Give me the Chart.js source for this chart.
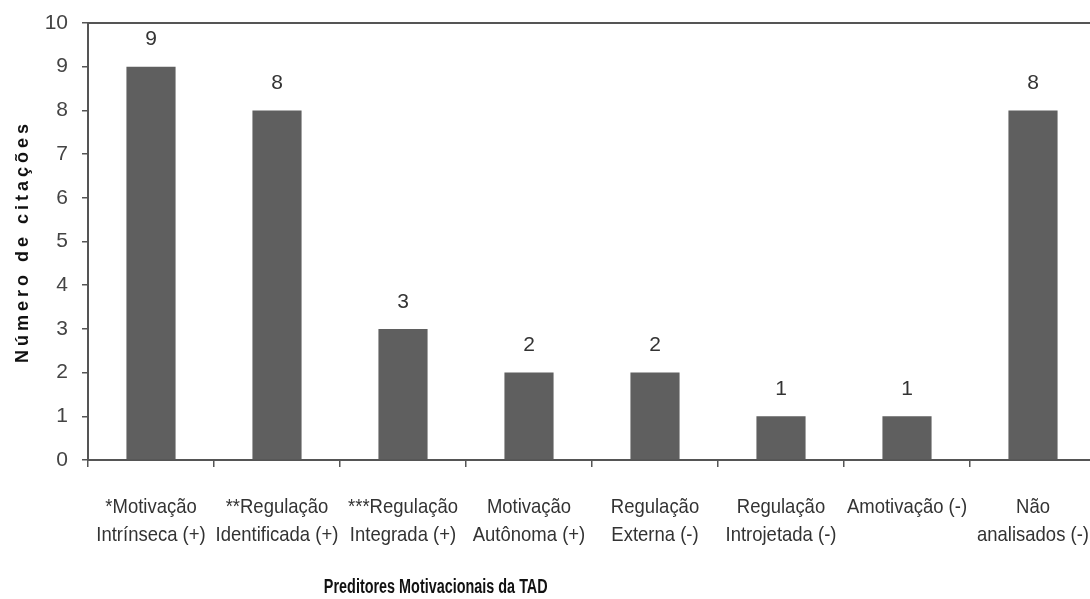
<!DOCTYPE html>
<html lang="pt">
<head>
<meta charset="utf-8">
<title>Preditores Motivacionais da TAD</title>
<script src="https://cdn.jsdelivr.net/npm/chart.js@4/dist/chart.umd.min.js"></script>
<style>
  html, body { margin: 0; padding: 0; background: #ffffff; overflow: hidden; }
  #wrap { width: 1090px; height: 599px; overflow: hidden; }
  canvas { display: block; }
</style>
</head>
<body>
<div id="wrap"><canvas id="chart" width="1096" height="599"></canvas></div>
<script>
// Categorias (preditores motivacionais) e número de citações
const categories = [
  ['*Motivação', 'Intrínseca (+)'],
  ['**Regulação', 'Identificada (+)'],
  ['***Regulação', 'Integrada (+)'],
  ['Motivação', 'Autônoma (+)'],
  ['Regulação', 'Externa (-)'],
  ['Regulação', 'Introjetada (-)'],
  ['Amotivação (-)'],
  ['Não', 'analisados (-)']
];
const citations = [9, 8, 3, 2, 2, 1, 1, 8];
const yTicks = [0, 1, 2, 3, 4, 5, 6, 7, 8, 9, 10];
const xTitle = 'Preditores Motivacionais da TAD';
const yTitle = 'Número de citações';

const SANS = "'Liberation Sans', Arial, sans-serif";
const AXIS = '#555555';
const LABEL_CONDENSE = 0.88;   // largura relativa dos rótulos das categorias
const TITLE_CONDENSE = 0.72;   // largura relativa do título do eixo x

// Rótulos de valor acima de cada barra
const valueLabels = {
  id: 'valueLabels',
  afterDatasetsDraw(chart) {
    const ctx = chart.ctx;
    const meta = chart.getDatasetMeta(0);
    ctx.save();
    ctx.font = '21px ' + SANS;
    ctx.fillStyle = '#333333';
    ctx.textAlign = 'center';
    ctx.textBaseline = 'middle';
    meta.data.forEach((bar, i) => {
      ctx.fillText(String(chart.data.datasets[0].data[i]), bar.x, bar.y - 27);
    });
    ctx.restore();
  }
};

// Estilo do texto dos eixos: título vertical espaçado, rótulos e título horizontal condensados
const axisText = {
  id: 'axisText',
  afterLayout(chart) {
    const y = chart.scales.y;
    if (y && !y._styled) {
      const orig = y.drawTitle.bind(y);
      y.drawTitle = function () {
        this.ctx.save();
        this.ctx.letterSpacing = '4px';
        orig();
        this.ctx.restore();
      };
      y._styled = true;
    }
    const x = chart.scales.x;
    if (x && !x._styled) {
      const origTitle = x.drawTitle.bind(x);
      x.drawTitle = function () {
        const ca = this.chart.chartArea;
        const target = ca.left + (ca.right - ca.left) * 0.345;
        const center = (this.left + this.right) / 2;
        this.ctx.save();
        this.ctx.translate(target, 0);
        this.ctx.scale(TITLE_CONDENSE, 1);
        this.ctx.translate(-center, 0);
        origTitle();
        this.ctx.restore();
      };
      x.drawLabels = function (chartArea) {
        const ctx = this.ctx;
        const items = this.getLabelItems(chartArea);
        for (const item of items) {
          const o = item.options;
          const lines = Array.isArray(item.label) ? item.label : [item.label];
          ctx.save();
          ctx.translate(o.translation[0], o.translation[1]);
          ctx.scale(LABEL_CONDENSE, 1);
          ctx.font = item.font.string;
          ctx.fillStyle = o.color;
          ctx.textAlign = o.textAlign;
          ctx.textBaseline = o.textBaseline;
          let ty = item.textOffset;
          for (const line of lines) {
            ctx.fillText(line, 0, ty);
            ty += item.font.lineHeight;
          }
          ctx.restore();
        }
      };
      x._styled = true;
    }
  }
};

new Chart(document.getElementById('chart'), {
  type: 'bar',
  data: {
    labels: categories,
    datasets: [{
      data: citations,
      backgroundColor: '#5f5f5f',
      borderWidth: 0,
      barPercentage: 0.39,
      categoryPercentage: 1.0
    }]
  },
  options: {
    responsive: false,
    animation: false,
    events: [],
    layout: { padding: { top: 23, right: 0, bottom: 0, left: 0 } },
    plugins: {
      legend: { display: false },
      tooltip: { enabled: false }
    },
    scales: {
      x: {
        position: 'bottom',
        offset: true,
        grid: {
          display: true,
          offset: true,
          drawOnChartArea: false,
          drawTicks: true,
          tickLength: 7,
          color: AXIS,
          lineWidth: 1.5
        },
        border: { display: true, color: AXIS, width: 2 },
        ticks: {
          color: '#333333',
          font: { family: SANS, size: 21, lineHeight: 1.333 },
          padding: 26,
          maxRotation: 0,
          autoSkip: false
        },
        title: {
          display: true,
          text: xTitle,
          color: '#111111',
          font: { family: SANS, size: 20, weight: 'bold' },
          padding: { top: 0, bottom: 0 }
        },
        afterFit(scale) {
          scale.height = 139;
          scale.paddingLeft = 0;
          scale.paddingRight = 0;
        }
      },
      xTop: {
        position: 'top',
        grid: { display: false },
        ticks: { display: false },
        border: { display: true, color: AXIS, width: 2 },
        afterFit(scale) {
          scale.height = 0;
          scale.paddingLeft = 0;
          scale.paddingRight = 0;
        }
      },
      y: {
        min: 0,
        max: 10,
        afterBuildTicks(scale) { scale.ticks = yTicks.map(v => ({ value: v })); },
        grid: {
          display: true,
          drawOnChartArea: false,
          drawTicks: true,
          tickLength: 6,
          color: AXIS,
          lineWidth: 1.5
        },
        border: { display: true, color: AXIS, width: 2 },
        ticks: {
          color: '#444444',
          font: { family: SANS, size: 21 },
          padding: 14
        },
        title: {
          display: true,
          text: yTitle,
          color: '#111111',
          font: { family: SANS, size: 18, weight: 'bold' },
          padding: { top: 12, bottom: 0 }
        },
        afterFit(scale) {
          scale.width = 88;
          scale.paddingTop = 0;
          scale.paddingBottom = 0;
        }
      }
    }
  },
  plugins: [valueLabels, axisText]
});
</script>
</body>
</html>
